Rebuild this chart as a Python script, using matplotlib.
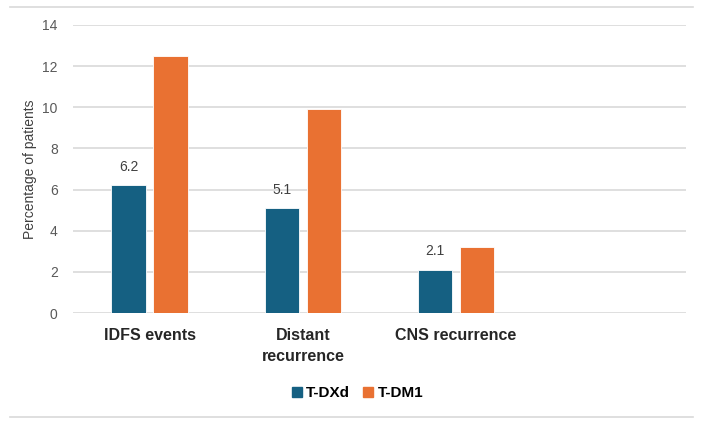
import matplotlib.pyplot as plt
import numpy as np
from matplotlib.lines import Line2D

# datos del gráfico
categorias = ['IDFS events', 'Distant\nrecurrence', 'CNS recurrence', '']
tdxd = [6.2, 5.1, 2.1]
tdm1 = [12.5, 9.9, 3.2]
series = ['T-DXd', 'T-DM1']
colores = ['#156082', '#E97132']
yticks = [0, 2, 4, 6, 8, 10, 12, 14]

plt.rcParams['font.family'] = ['Liberation Sans', 'DejaVu Sans']

fig = plt.figure(figsize=(7.04, 4.25), dpi=100)
ax = fig.add_axes([0.1037, 0.2635, 0.8707, 0.6777])

x = np.arange(len(tdxd))
ancho = 0.225
desp = 0.1375
b1 = ax.bar(x - desp, tdxd, ancho, color=colores[0], edgecolor='white', linewidth=0.6, zorder=3)
b2 = ax.bar(x + desp, tdm1, ancho, color=colores[1], edgecolor='white', linewidth=0.6, zorder=3)

# etiquetas solo para T-DXd
for rect, v in zip(b1, tdxd):
    ax.text(rect.get_x() + rect.get_width() / 2, v + 0.55, str(v),
            ha='center', va='bottom', fontsize=10, color='#404040')

ax.set_xlim(-0.5, len(categorias) - 0.5)
ax.set_ylim(0, 14)
ax.set_yticks(yticks)
ax.set_xticks(np.arange(len(categorias)))
ax.set_xticklabels(categorias, fontsize=11.5, fontweight='bold', color='#262626',
                   linespacing=1.5)
ax.tick_params(axis='x', length=0, pad=11)
ax.tick_params(axis='y', length=0, pad=11, labelsize=10, labelcolor='#595959')
ax.yaxis.grid(True, color='#d9d9d9', linewidth=1.2, zorder=0)
for s in ax.spines.values():
    s.set_visible(False)
ax.set_ylabel('Percentage of patients', fontsize=10, color='#404040', labelpad=0)
ax.yaxis.set_label_coords(-0.058, 0.5)

# leyenda abajo
manejadores = [Line2D([0], [0], marker='s', linestyle='none', markersize=7,
                      markerfacecolor=c, markeredgecolor=c) for c in colores]
fig.legend(manejadores, series, loc='center', bbox_to_anchor=(0.505, 0.075),
           ncol=2, frameon=False, handletextpad=0.0, columnspacing=0.6,
           handlelength=1.2, prop={'weight': 'bold', 'size': 11})

# líneas del borde superior e inferior
fig.add_artist(Line2D([0.014, 0.985], [0.984, 0.984], color='#d9d9d9', linewidth=1.2))
fig.add_artist(Line2D([0.014, 0.985], [0.019, 0.019], color='#d9d9d9', linewidth=1.2))

fig.savefig('out.png', dpi=100)
